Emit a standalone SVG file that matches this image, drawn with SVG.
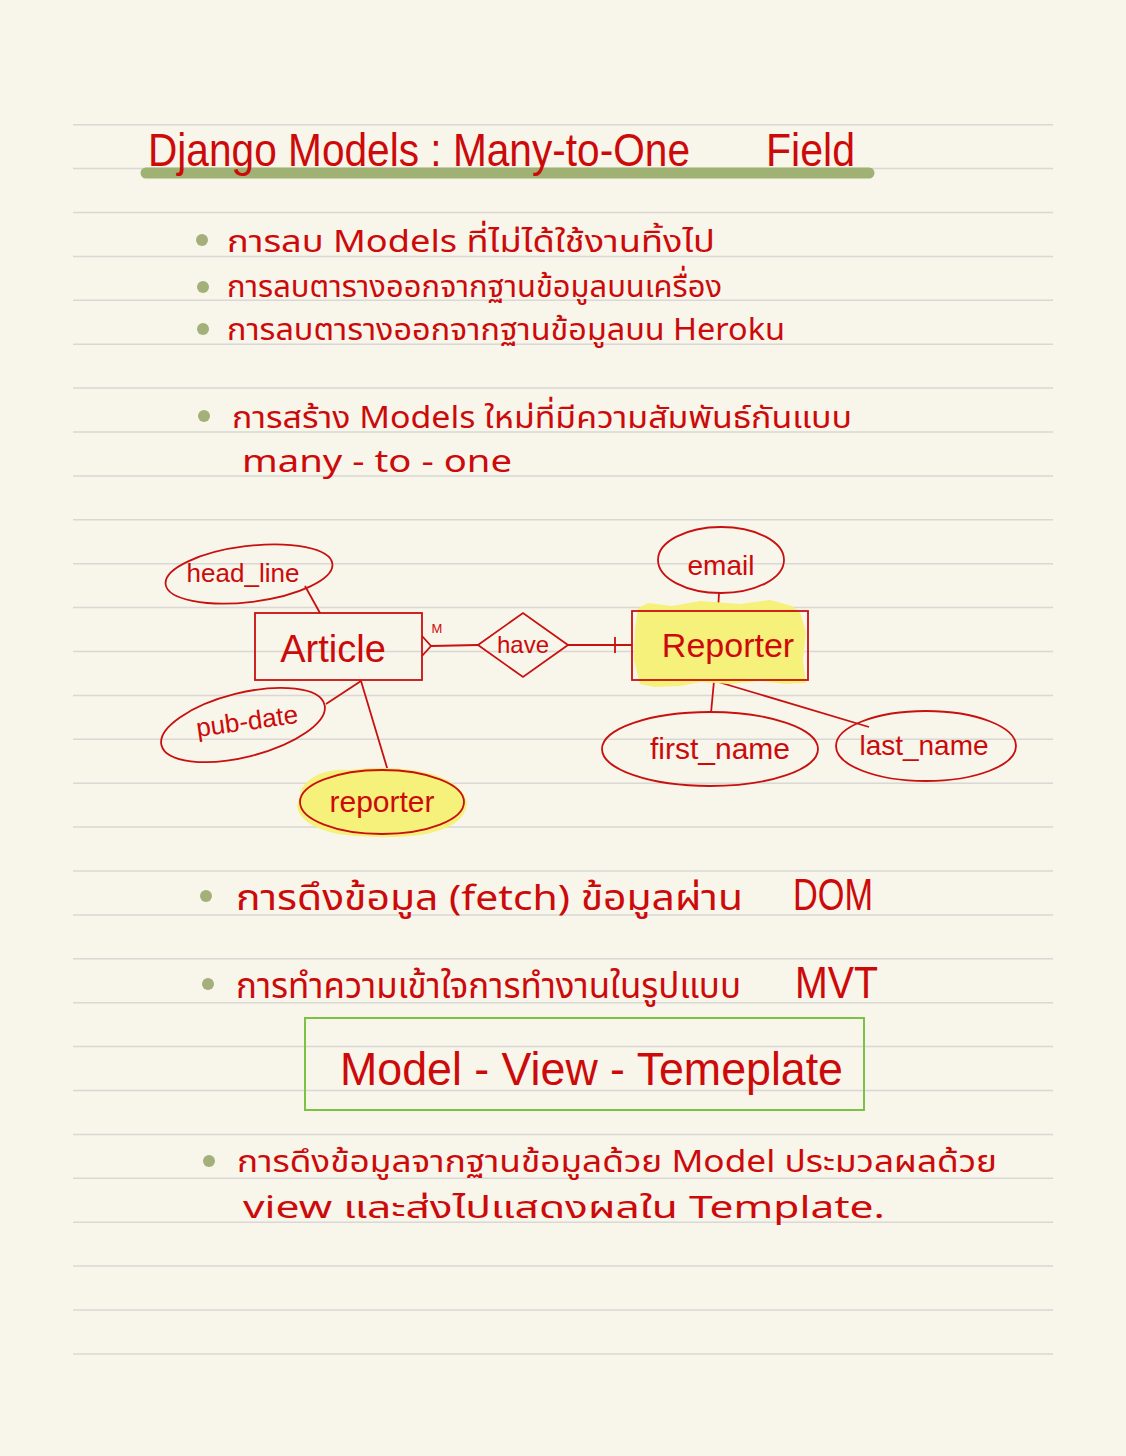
<svg xmlns="http://www.w3.org/2000/svg" width="1126" height="1456" viewBox="0 0 1126 1456">
<defs>
<style>
.rule{stroke:#d9d8d4;stroke-width:1.5}
.ink{fill:#cc0a0a;font-family:"Noto Sans Thai","Noto Sans","DejaVu Sans",sans-serif}
.hand{fill:#cc0a0a;font-family:"Liberation Sans Narrow","Liberation Sans","Noto Sans Thai",sans-serif}
.shape{fill:none;stroke:#c81010;stroke-width:1.8}
.bullet{fill:#a3b07a}
.hl{fill:#f6f17a}
</style>
</defs>
<rect x="0" y="0" width="1126" height="1456" fill="#f8f5ea"/>
<g id="rules">
<line class="rule" x1="73" y1="124.7" x2="1053" y2="124.7"/>
<line class="rule" x1="73" y1="168.6" x2="1053" y2="168.6"/>
<line class="rule" x1="73" y1="212.5" x2="1053" y2="212.5"/>
<line class="rule" x1="73" y1="256.4" x2="1053" y2="256.4"/>
<line class="rule" x1="73" y1="300.3" x2="1053" y2="300.3"/>
<line class="rule" x1="73" y1="344.2" x2="1053" y2="344.2"/>
<line class="rule" x1="73" y1="388.1" x2="1053" y2="388.1"/>
<line class="rule" x1="73" y1="432.0" x2="1053" y2="432.0"/>
<line class="rule" x1="73" y1="475.9" x2="1053" y2="475.9"/>
<line class="rule" x1="73" y1="519.8" x2="1053" y2="519.8"/>
<line class="rule" x1="73" y1="563.7" x2="1053" y2="563.7"/>
<line class="rule" x1="73" y1="607.6" x2="1053" y2="607.6"/>
<line class="rule" x1="73" y1="651.5" x2="1053" y2="651.5"/>
<line class="rule" x1="73" y1="695.4" x2="1053" y2="695.4"/>
<line class="rule" x1="73" y1="739.3" x2="1053" y2="739.3"/>
<line class="rule" x1="73" y1="783.2" x2="1053" y2="783.2"/>
<line class="rule" x1="73" y1="827.1" x2="1053" y2="827.1"/>
<line class="rule" x1="73" y1="871.0" x2="1053" y2="871.0"/>
<line class="rule" x1="73" y1="914.9" x2="1053" y2="914.9"/>
<line class="rule" x1="73" y1="958.8" x2="1053" y2="958.8"/>
<line class="rule" x1="73" y1="1002.7" x2="1053" y2="1002.7"/>
<line class="rule" x1="73" y1="1046.6" x2="1053" y2="1046.6"/>
<line class="rule" x1="73" y1="1090.5" x2="1053" y2="1090.5"/>
<line class="rule" x1="73" y1="1134.4" x2="1053" y2="1134.4"/>
<line class="rule" x1="73" y1="1178.3" x2="1053" y2="1178.3"/>
<line class="rule" x1="73" y1="1222.2" x2="1053" y2="1222.2"/>
<line class="rule" x1="73" y1="1266.1" x2="1053" y2="1266.1"/>
<line class="rule" x1="73" y1="1310.0" x2="1053" y2="1310.0"/>
<line class="rule" x1="73" y1="1353.9" x2="1053" y2="1353.9"/>
</g>
<g id="title">
<line x1="146" y1="173" x2="869" y2="173" stroke="#9fb173" stroke-width="11" stroke-linecap="round"/>
<text class="hand" x="148" y="166" font-size="46" textLength="542" lengthAdjust="spacingAndGlyphs">Django Models : Many-to-One</text>
<text class="hand" x="766" y="166" font-size="46" textLength="89" lengthAdjust="spacingAndGlyphs">Field</text>
</g>
<g id="bullets">
<circle class="bullet" cx="202" cy="240" r="6"/>
<text class="ink" x="227" y="252" font-size="31" textLength="488" lengthAdjust="spacingAndGlyphs">การลบ Models ที่ไม่ได้ใช้งานทิ้งไป</text>
<circle class="bullet" cx="203" cy="287" r="6"/>
<text class="ink" x="227" y="297" font-size="31" textLength="495" lengthAdjust="spacingAndGlyphs">การลบตารางออกจากฐานข้อมูลบนเครื่อง</text>
<circle class="bullet" cx="203" cy="329" r="6"/>
<text class="ink" x="227" y="340" font-size="31" textLength="558" lengthAdjust="spacingAndGlyphs">การลบตารางออกจากฐานข้อมูลบน Heroku</text>
<circle class="bullet" cx="204" cy="416" r="6"/>
<text class="ink" x="232" y="428" font-size="31" textLength="620" lengthAdjust="spacingAndGlyphs">การสร้าง Models ใหม่ที่มีความสัมพันธ์กันแบบ</text>
<text class="ink" x="242" y="472" font-size="31" textLength="270" lengthAdjust="spacingAndGlyphs">many - to - one</text>
<circle class="bullet" cx="206" cy="896" r="6"/>
<text class="ink" x="236" y="910" font-size="35" textLength="507" lengthAdjust="spacingAndGlyphs">การดึงข้อมูล (fetch) ข้อมูลผ่าน</text>
<text class="hand" x="793" y="910" font-size="44" textLength="80" lengthAdjust="spacingAndGlyphs">DOM</text>
<circle class="bullet" cx="208" cy="984" r="6"/>
<text class="ink" x="236" y="998" font-size="35" textLength="505" lengthAdjust="spacingAndGlyphs">การทำความเข้าใจการทำงานในรูปแบบ</text>
<text class="hand" x="795" y="998" font-size="44" textLength="83" lengthAdjust="spacingAndGlyphs">MVT</text>
<circle class="bullet" cx="209" cy="1161" r="6"/>
<text class="ink" x="237" y="1172" font-size="31" textLength="760" lengthAdjust="spacingAndGlyphs">การดึงข้อมูลจากฐานข้อมูลด้วย Model ประมวลผลด้วย</text>
<text class="ink" x="243" y="1218" font-size="31" textLength="642" lengthAdjust="spacingAndGlyphs">view และส่งไปแสดงผลใน Template.</text>
</g>
<g id="mvt-box">
<rect x="305" y="1018" width="559" height="92" fill="none" stroke="#7cc244" stroke-width="2"/>
<text class="hand" x="340" y="1085" font-size="46" textLength="503" lengthAdjust="spacingAndGlyphs">Model - View - Temeplate</text>
</g>
<g id="connectors">
<line class="shape" x1="305" y1="586" x2="320" y2="613"/>
<line class="shape" x1="326" y1="704" x2="361" y2="681"/>
<line class="shape" x1="361" y1="681" x2="388" y2="771"/>
<path class="shape" d="M422 636 L431 646 L422 656 M431 646 L478 645"/>
<path class="shape" d="M568 645 L632 645 M615 637 L615 653"/>
<line class="shape" x1="719" y1="593" x2="718" y2="611"/>
<line class="shape" x1="714" y1="681" x2="711" y2="713"/>
<line class="shape" x1="715" y1="681" x2="869" y2="727"/>
</g>
<g id="article">
<rect class="shape" x="255" y="613" width="167" height="67"/>
<text class="hand" x="333" y="662" font-size="38" text-anchor="middle">Article</text>
<text class="hand" x="437" y="633" font-size="13" text-anchor="middle">M</text>
</g>
<g id="head_line">
<ellipse class="shape" cx="249" cy="574" rx="84" ry="28" transform="rotate(-7 249 574)"/>
<text class="hand" x="243" y="582" font-size="26" text-anchor="middle">head_line</text>
</g>
<g id="pub_date">
<ellipse class="shape" cx="243" cy="725" rx="84" ry="32" transform="rotate(-14 243 725)"/>
<text class="hand" x="248" y="730" font-size="26" text-anchor="middle" transform="rotate(-8 248 728)">pub-date</text>
</g>
<g id="reporter_attr">
<path class="hl" d="M302 788 Q316 768 350 770 Q390 764 432 774 Q464 784 467 804 Q464 828 420 835 Q380 840 338 834 Q300 826 297 806 Z"/>
<ellipse class="shape" cx="382" cy="802" rx="82" ry="32"/>
<text class="hand" x="382" y="812" font-size="30" text-anchor="middle">reporter</text>
</g>
<g id="have">
<polygon class="shape" points="478,645 523,613 568,645 523,677"/>
<text class="hand" x="523" y="653" font-size="24" text-anchor="middle">have</text>
</g>
<g id="reporter">
<path class="hl" d="M638 608 L648 603 L672 606 L700 601 L740 604 L770 600 L792 606 L800 612 L806 632 L803 660 L806 683 L785 684 L760 681 L730 684 L700 682 L680 686 L655 687 L640 684 L634 660 L635 630 Z"/>
<rect class="shape" x="632" y="611" width="176" height="69"/>
<text class="hand" x="728" y="657" font-size="34" text-anchor="middle">Reporter</text>
</g>
<g id="email">
<ellipse class="shape" cx="721" cy="560" rx="63" ry="33"/>
<text class="hand" x="721" y="575" font-size="28" text-anchor="middle">email</text>
</g>
<g id="first_name">
<ellipse class="shape" cx="710" cy="749" rx="108" ry="37"/>
<text class="hand" x="720" y="759" font-size="30" text-anchor="middle">first_name</text>
</g>
<g id="last_name">
<ellipse class="shape" cx="926" cy="746" rx="90" ry="35"/>
<text class="hand" x="924" y="755" font-size="28" text-anchor="middle">last_name</text>
</g>
</svg>
